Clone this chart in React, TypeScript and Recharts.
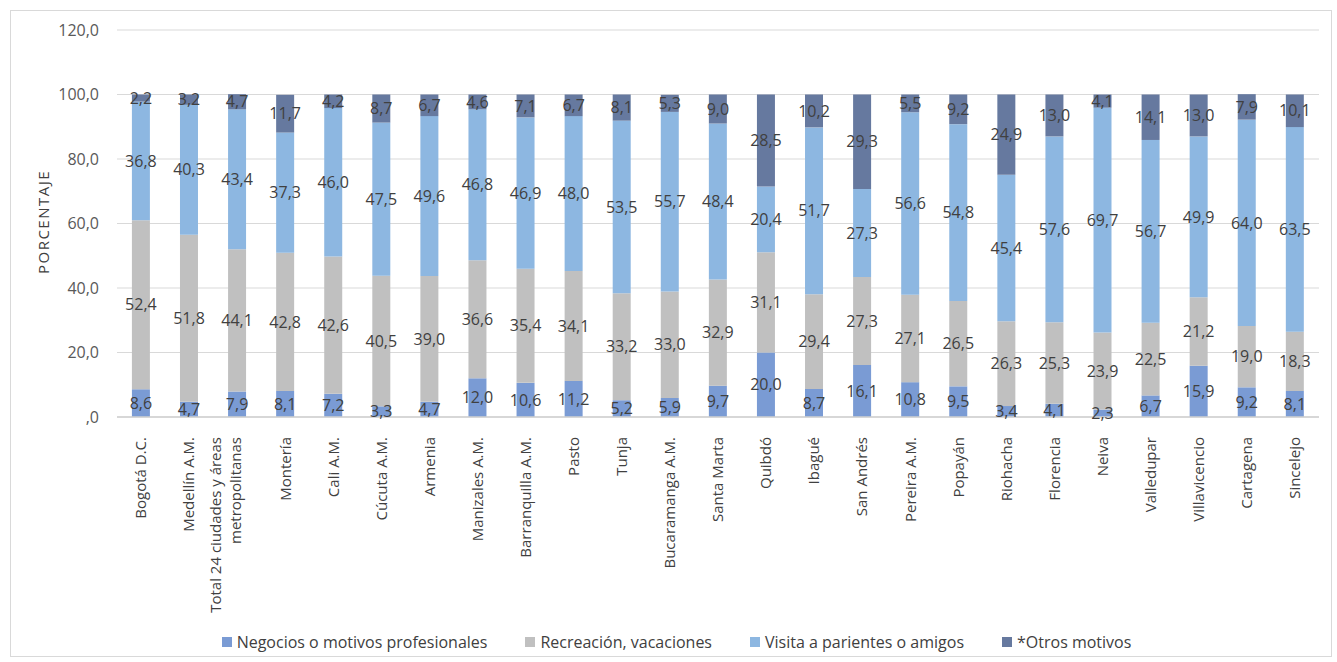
import { BarChart, Bar, XAxis, YAxis, CartesianGrid, Legend, LabelList, Label } from "recharts";

const cities = [
  "Bogotá D.C.", "Medellín A.M.", "Total 24 ciudades y áreas|metropolitanas", "Montería", "Cali A.M.",
  "Cúcuta A.M.", "Armenia", "Manizales A.M.", "Barranquilla A.M.", "Pasto", "Tunja",
  "Bucaramanga A.M.", "Santa Marta", "Quibdó", "Ibagué", "San Andrés", "Pereira A.M.",
  "Popayán", "Riohacha", "Florencia", "Neiva", "Valledupar", "Villavicencio", "Cartagena", "Sincelejo",
];

const negocios = [8.6, 4.7, 7.9, 8.1, 7.2, 3.3, 4.7, 12.0, 10.6, 11.2, 5.2, 5.9, 9.7, 20.0, 8.7, 16.1, 10.8, 9.5, 3.4, 4.1, 2.3, 6.7, 15.9, 9.2, 8.1];
const recreacion = [52.4, 51.8, 44.1, 42.8, 42.6, 40.5, 39.0, 36.6, 35.4, 34.1, 33.2, 33.0, 32.9, 31.1, 29.4, 27.3, 27.1, 26.5, 26.3, 25.3, 23.9, 22.5, 21.2, 19.0, 18.3];
const visita = [36.8, 40.3, 43.4, 37.3, 46.0, 47.5, 49.6, 46.8, 46.9, 48.0, 53.5, 55.7, 48.4, 20.4, 51.7, 27.3, 56.6, 54.8, 45.4, 57.6, 69.7, 56.7, 49.9, 64.0, 63.5];
const otros = [2.2, 3.2, 4.7, 11.7, 4.2, 8.7, 6.7, 4.6, 7.1, 6.7, 8.1, 5.3, 9.0, 28.5, 10.2, 29.3, 5.5, 9.2, 24.9, 13.0, 4.1, 14.1, 13.0, 7.9, 10.1];

const yTicks = [0, 20, 40, 60, 80, 100, 120];

const series = [
  { key: "negocios", name: "Negocios o motivos profesionales", color: "#7A9BD4" },
  { key: "recreacion", name: "Recreación, vacaciones", color: "#C0C0C0" },
  { key: "visita", name: "Visita a parientes o amigos", color: "#8DB7E1" },
  { key: "otros", name: "*Otros motivos", color: "#66799F" },
];

const data = cities.map((city, i) => ({
  city,
  negocios: negocios[i],
  recreacion: recreacion[i],
  visita: visita[i],
  otros: otros[i],
}));

const FONT = "'Open Sans', sans-serif";

const fmt = (v: number) => (v === 0 ? ",0" : v.toFixed(1).replace(".", ","));

function CityTick(props: any) {
  const { x, y, payload } = props;
  const lines: string[] = String(payload.value).split("|");
  return (
    <g transform={`translate(${x},${y})`}>
      <text transform="rotate(-90)" textAnchor="end" fill="#404040" fontSize={15} fontFamily={FONT}>
        {lines.map((l, i) => (
          <tspan key={i} x={-12} dy={i === 0 ? (lines.length > 1 ? "-1.05em" : "0.35em") : "1.3em"}>
            {l}
          </tspan>
        ))}
      </text>
    </g>
  );
}

function LegendContent() {
  return (
    <div style={{ display: "flex", justifyContent: "center", gap: 38, paddingTop: 14, paddingLeft: 34, fontFamily: FONT, fontSize: 16, color: "#404040" }}>
      {series.map((s) => (
        <div key={s.key} style={{ display: "flex", alignItems: "center" }}>
          <span style={{ width: 10, height: 10, background: s.color, marginRight: 5, display: "inline-block" }} />
          {s.name}
        </div>
      ))}
    </div>
  );
}

export default function App() {
  return (
    <div style={{ position: "absolute", left: 0, top: 0, width: 1337, height: 662, background: "#fff" }}>
      <div style={{ position: "absolute", left: 10, top: 10, width: 1322, height: 647, border: "1px solid #D9D9D9", boxSizing: "border-box" }} />
      <div style={{ position: "absolute", left: 0, top: 0 }}>
        <BarChart
          width={1337}
          height={662}
          data={data}
          margin={{ top: 30, right: 18, left: 0, bottom: 0 }}
          barCategoryGap="31%"
        >
          <CartesianGrid vertical={false} stroke="#D9D9D9" />
          <XAxis
            dataKey="city"
            interval={0}
            tick={<CityTick />}
            tickLine={false}
            axisLine={{ stroke: "#D0D0D0", strokeWidth: 1.5 }}
            height={200}
          />
          <YAxis
            width={117}
            domain={[0, 120]}
            ticks={yTicks}
            tickFormatter={fmt}
            tickLine={false}
            axisLine={false}
            tickMargin={12}
            tick={{ fill: "#595959", fontSize: 16, fontFamily: FONT }}
          >
            <Label
              content={() => (
                <text x={45} y={222} transform="rotate(-90 45 222)" textAnchor="middle" dominantBaseline="middle" fill="#404040" fontSize={15} letterSpacing={1.5} fontFamily={FONT}>
                  PORCENTAJE
                </text>
              )}
            />
          </YAxis>
          <Legend verticalAlign="bottom" height={45} content={<LegendContent />} />
          {series.map((s) => (
            <Bar key={s.key} dataKey={s.key} name={s.name} stackId="a" fill={s.color} isAnimationActive={false}>
              <LabelList dataKey={s.key} position="center" formatter={(v: any) => fmt(Number(v))} fill="#404040" fontSize={16} fontFamily={FONT} />
            </Bar>
          ))}
        </BarChart>
      </div>
    </div>
  );
}
